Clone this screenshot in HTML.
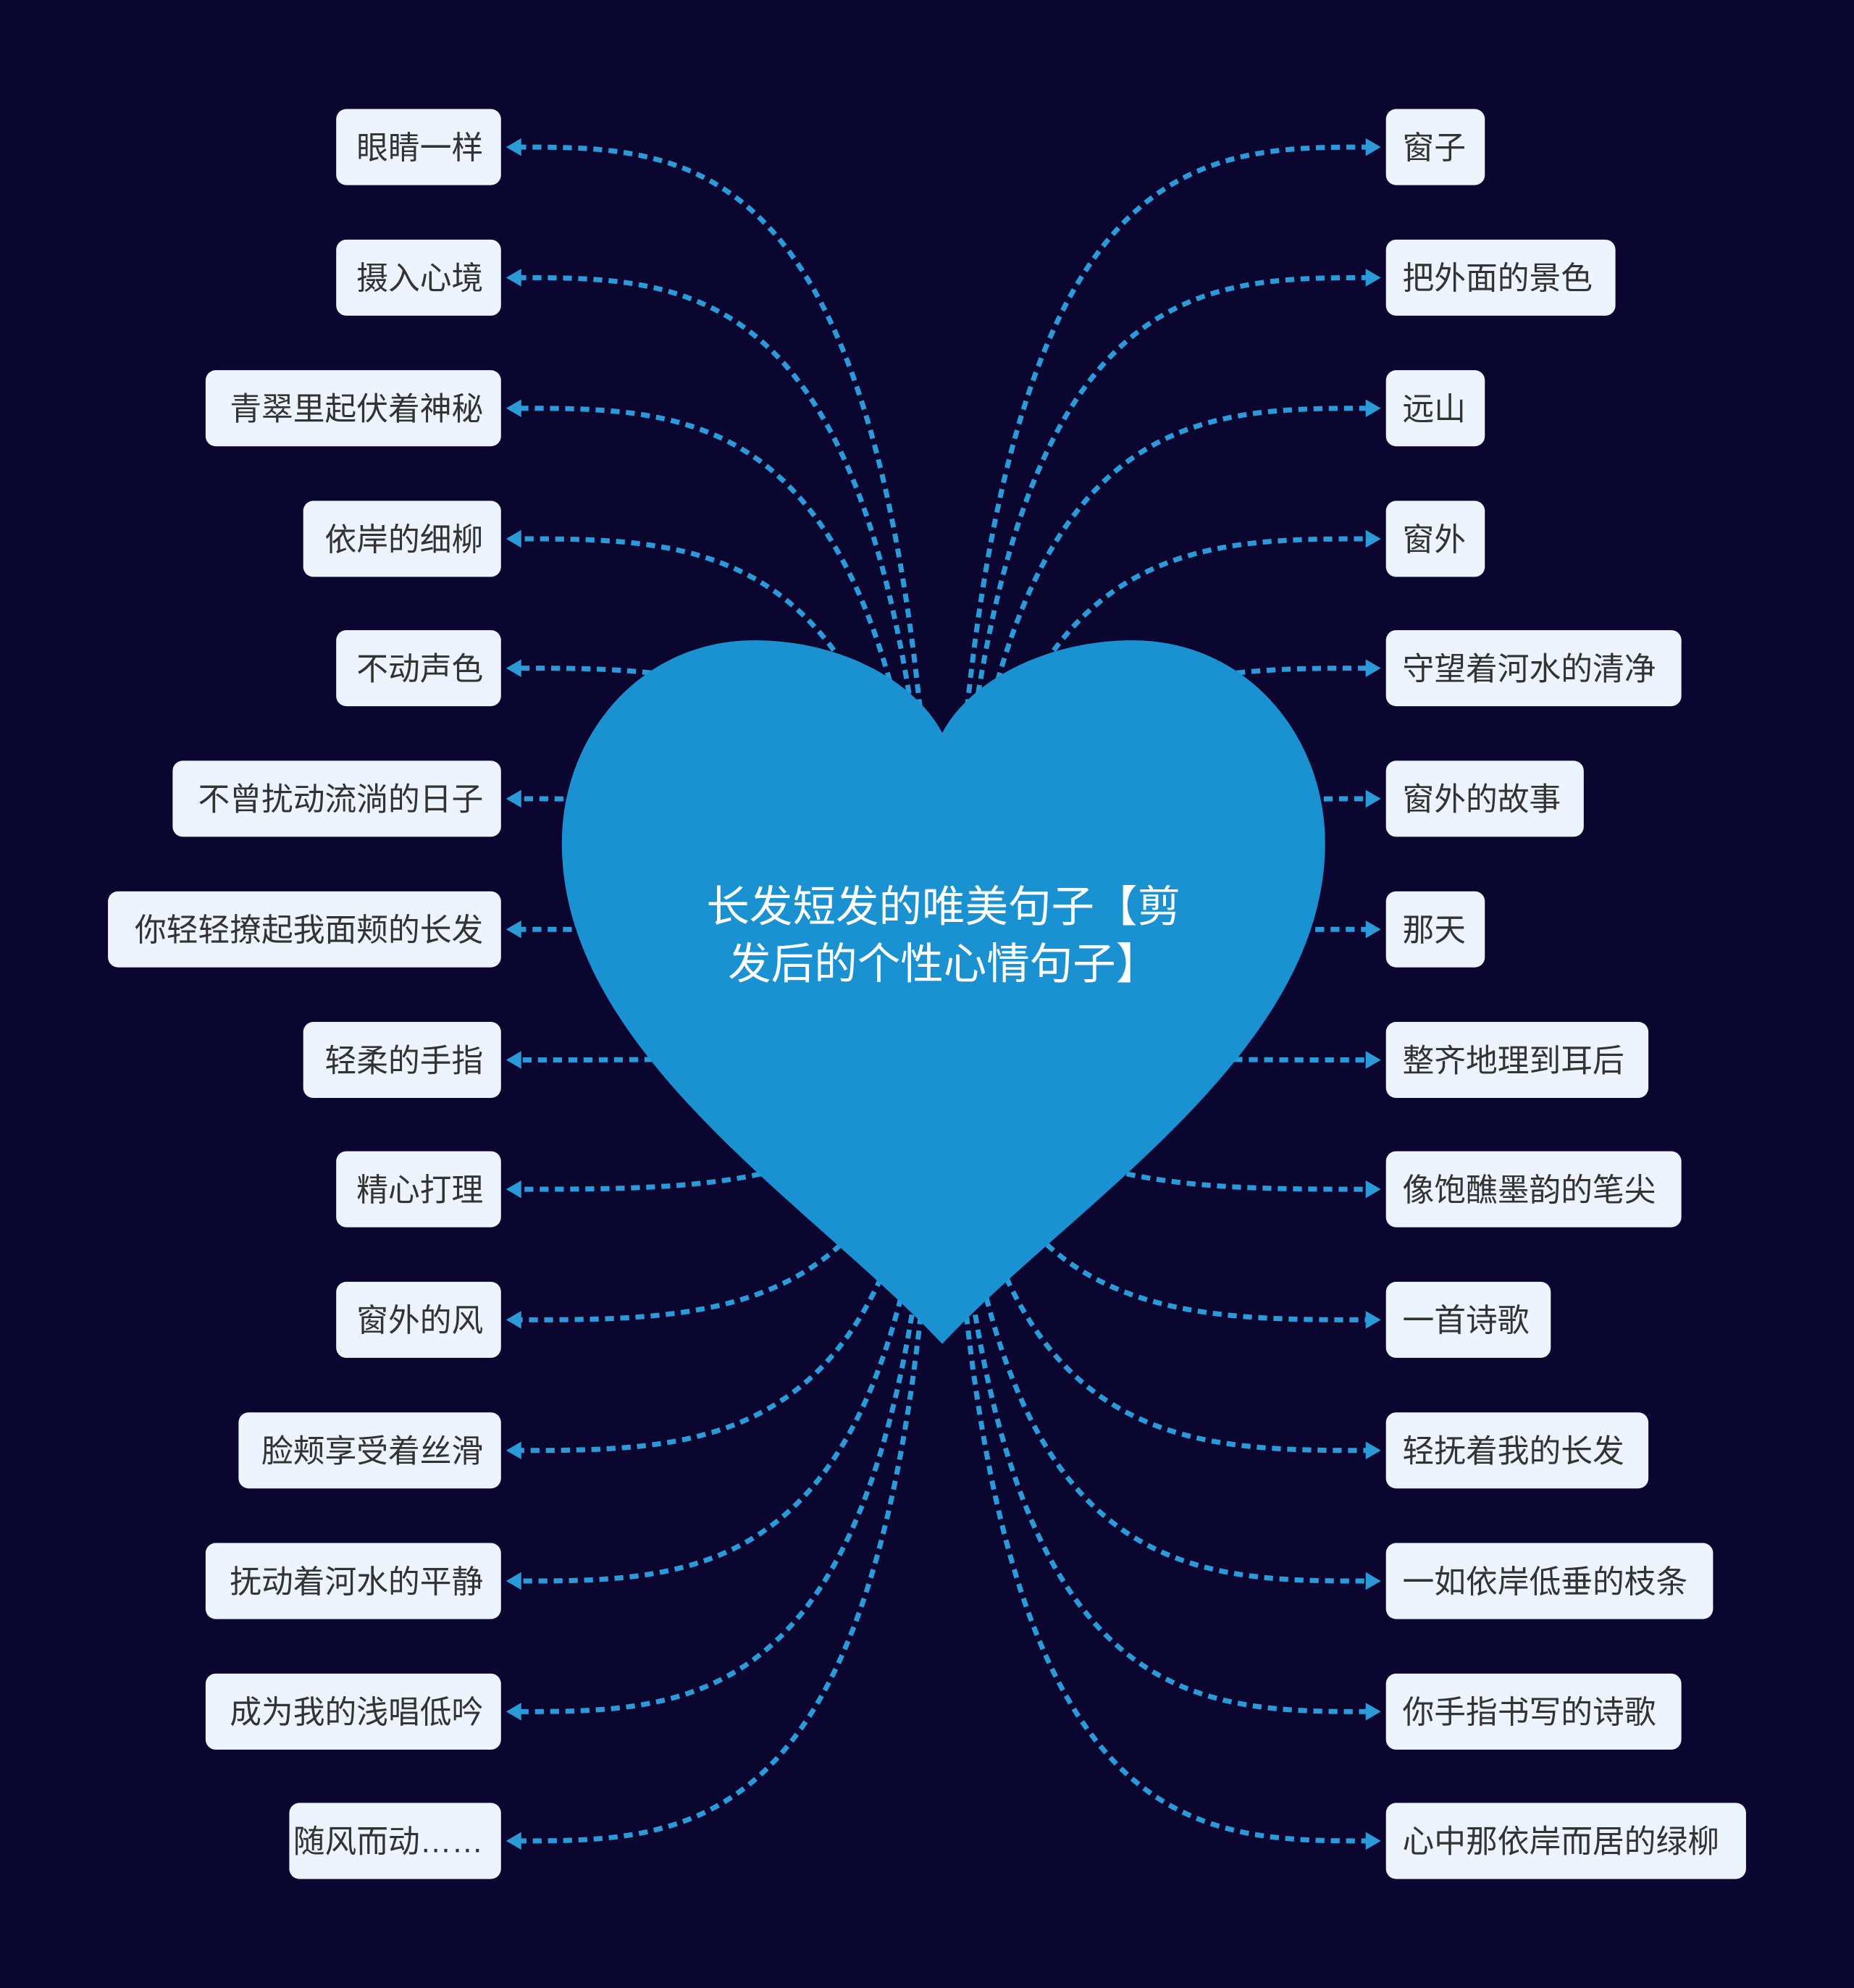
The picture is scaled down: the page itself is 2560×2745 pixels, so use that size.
<!DOCTYPE html>
<html><head><meta charset="utf-8"><style>
html,body{margin:0;padding:0;background:#0b0630;}
svg{display:block}
text{font-family:"Liberation Sans","Noto Sans CJK SC",sans-serif;}
</style></head><body>
<svg width="2560" height="2745" viewBox="0 0 1462 1568" xmlns="http://www.w3.org/2000/svg">
<rect width="1462" height="1568" fill="#0b0630"/>
<g fill="none" stroke="#2a9ad8" stroke-width="4" stroke-dasharray="7 5">
<path d="M740,810 C725,116 560,116 408,116"/>
<path d="M740,810 C720,219 560,219 408,219"/>
<path d="M740,810 C715,322 560,322 408,322"/>
<path d="M740,810 C710,425 560,425 408,425"/>
<path d="M740,810 C705,527 560,527 408,527"/>
<path d="M740,810 C700,630 560,630 408,630"/>
<path d="M740,810 C700,733 560,733 408,733"/>
<path d="M740,810 C700,836 560,836 408,836"/>
<path d="M740,810 C700,938 560,938 408,938"/>
<path d="M740,810 C705,1041 560,1041 408,1041"/>
<path d="M740,810 C710,1144 560,1144 408,1144"/>
<path d="M740,810 C715,1247 560,1247 408,1247"/>
<path d="M740,810 C720,1350 560,1350 408,1350"/>
<path d="M740,810 C725,1452 560,1452 408,1452"/>
<path d="M748,810 C763,116 930,116 1080,116"/>
<path d="M748,810 C768,219 930,219 1080,219"/>
<path d="M748,810 C773,322 930,322 1080,322"/>
<path d="M748,810 C778,425 930,425 1080,425"/>
<path d="M748,810 C783,527 930,527 1080,527"/>
<path d="M748,810 C788,630 930,630 1080,630"/>
<path d="M748,810 C788,733 930,733 1080,733"/>
<path d="M748,810 C788,836 930,836 1080,836"/>
<path d="M748,810 C788,938 930,938 1080,938"/>
<path d="M748,810 C783,1041 930,1041 1080,1041"/>
<path d="M748,810 C778,1144 930,1144 1080,1144"/>
<path d="M748,810 C773,1247 930,1247 1080,1247"/>
<path d="M748,810 C768,1350 930,1350 1080,1350"/>
<path d="M748,810 C763,1452 930,1452 1080,1452"/>
</g>
<g fill="#2a9ad8">
<polygon points="399,116 411,109 411,123"/><polygon points="399,219 411,212 411,226"/><polygon points="399,322 411,315 411,329"/><polygon points="399,425 411,418 411,432"/><polygon points="399,527 411,520 411,534"/><polygon points="399,630 411,623 411,637"/><polygon points="399,733 411,726 411,740"/><polygon points="399,836 411,829 411,843"/><polygon points="399,938 411,931 411,945"/><polygon points="399,1041 411,1034 411,1048"/><polygon points="399,1144 411,1137 411,1151"/><polygon points="399,1247 411,1240 411,1254"/><polygon points="399,1350 411,1343 411,1357"/><polygon points="399,1452 411,1445 411,1459"/>
<polygon points="1089,116 1077,109 1077,123"/><polygon points="1089,219 1077,212 1077,226"/><polygon points="1089,322 1077,315 1077,329"/><polygon points="1089,425 1077,418 1077,432"/><polygon points="1089,527 1077,520 1077,534"/><polygon points="1089,630 1077,623 1077,637"/><polygon points="1089,733 1077,726 1077,740"/><polygon points="1089,836 1077,829 1077,843"/><polygon points="1089,938 1077,931 1077,945"/><polygon points="1089,1041 1077,1034 1077,1048"/><polygon points="1089,1144 1077,1137 1077,1151"/><polygon points="1089,1247 1077,1240 1077,1254"/><polygon points="1089,1350 1077,1343 1077,1357"/><polygon points="1089,1452 1077,1445 1077,1459"/>
</g>
<path d="M743,578 C720,535 660,505 595,505 C505,505 443,580 443,665 C443,830 640,950 743,1060 C846,950 1045,830 1045,665 C1045,580 983,505 893,505 C828,505 766,535 743,578 Z" fill="#1a91d1"/>
<text x="744" y="727" fill="#fff" font-size="34" text-anchor="middle">长发短发的唯美句子【剪</text>
<text x="744" y="772" fill="#fff" font-size="34" text-anchor="middle">发后的个性心情句子】</text>
<g fill="#eef4fd">
<rect x="265" y="86" width="130" height="60" rx="8"/>
<rect x="265" y="189" width="130" height="60" rx="8"/>
<rect x="162" y="292" width="233" height="60" rx="8"/>
<rect x="239" y="395" width="156" height="60" rx="8"/>
<rect x="265" y="497" width="130" height="60" rx="8"/>
<rect x="136" y="600" width="259" height="60" rx="8"/>
<rect x="85" y="703" width="310" height="60" rx="8"/>
<rect x="239" y="806" width="156" height="60" rx="8"/>
<rect x="265" y="908" width="130" height="60" rx="8"/>
<rect x="265" y="1011" width="130" height="60" rx="8"/>
<rect x="188" y="1114" width="207" height="60" rx="8"/>
<rect x="162" y="1217" width="233" height="60" rx="8"/>
<rect x="162" y="1320" width="233" height="60" rx="8"/>
<rect x="228" y="1422" width="167" height="60" rx="8"/>
<rect x="1093" y="86" width="78" height="60" rx="8"/>
<rect x="1093" y="189" width="181" height="60" rx="8"/>
<rect x="1093" y="292" width="78" height="60" rx="8"/>
<rect x="1093" y="395" width="78" height="60" rx="8"/>
<rect x="1093" y="497" width="233" height="60" rx="8"/>
<rect x="1093" y="600" width="156" height="60" rx="8"/>
<rect x="1093" y="703" width="78" height="60" rx="8"/>
<rect x="1093" y="806" width="207" height="60" rx="8"/>
<rect x="1093" y="908" width="233" height="60" rx="8"/>
<rect x="1093" y="1011" width="130" height="60" rx="8"/>
<rect x="1093" y="1114" width="207" height="60" rx="8"/>
<rect x="1093" y="1217" width="258" height="60" rx="8"/>
<rect x="1093" y="1320" width="233" height="60" rx="8"/>
<rect x="1093" y="1422" width="284" height="60" rx="8"/>
</g>
<g fill="#333" font-size="25" text-anchor="end">
<text x="381" y="125">眼睛一样</text>
<text x="381" y="228">摄入心境</text>
<text x="381" y="331">青翠里起伏着神秘</text>
<text x="381" y="434">依岸的细柳</text>
<text x="381" y="536">不动声色</text>
<text x="381" y="639">不曾扰动流淌的日子</text>
<text x="381" y="742">你轻轻撩起我面颊的长发</text>
<text x="381" y="845">轻柔的手指</text>
<text x="381" y="947">精心打理</text>
<text x="381" y="1050">窗外的风</text>
<text x="381" y="1153">脸颊享受着丝滑</text>
<text x="381" y="1256">抚动着河水的平静</text>
<text x="381" y="1359">成为我的浅唱低吟</text>
<text x="381" y="1461">随风而动……</text>
</g>
<g fill="#333" font-size="25">
<text x="1106" y="125">窗子</text>
<text x="1106" y="228">把外面的景色</text>
<text x="1106" y="331">远山</text>
<text x="1106" y="434">窗外</text>
<text x="1106" y="536">守望着河水的清净</text>
<text x="1106" y="639">窗外的故事</text>
<text x="1106" y="742">那天</text>
<text x="1106" y="845">整齐地理到耳后</text>
<text x="1106" y="947">像饱醮墨韵的笔尖</text>
<text x="1106" y="1050">一首诗歌</text>
<text x="1106" y="1153">轻抚着我的长发</text>
<text x="1106" y="1256">一如依岸低垂的枝条</text>
<text x="1106" y="1359">你手指书写的诗歌</text>
<text x="1106" y="1461">心中那依岸而居的绿柳</text>
</g>
</svg>
</body></html>
